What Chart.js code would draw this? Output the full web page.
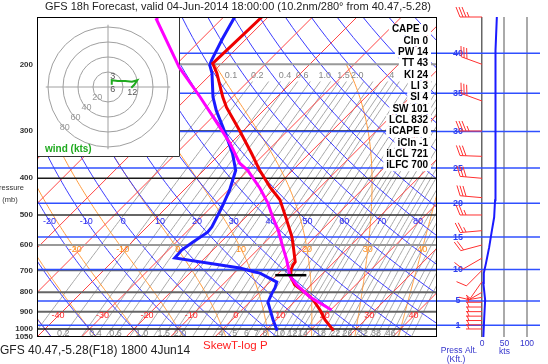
<!DOCTYPE html>
<html>
<head>
    <title>GFS Skew-T</title>
    <script src="https://cdn.jsdelivr.net/npm/chart.js"></script>
    <style>
        body { margin: 0; background: #fff; }
        #box { position: relative; width: 548px; height: 364px; overflow: hidden; }
        #box canvas { position: absolute; }
    </style>
</head>
<body>
<div id="box">
    <canvas id="hodoChart" width="143" height="140" style="left:37px; top:17px; z-index:1"></canvas>
    <canvas id="skewChart" width="548" height="364" style="left:0; top:0; z-index:2"></canvas>
    <canvas id="windChart" width="111" height="364" style="left:437px; top:0; z-index:3"></canvas>
</div>

<script>
    // ---- sounding (pressure mb / degC) ----
    const tempP = [1010, 947, 891, 838, 813, 789, 765, 729, 699, 678, 665, 607, 572, 516, 456, 422, 381, 344, 299, 260, 244, 211, 199, 166, 150];
    const tempC = [25.3, 21.0, 17.6, 13.8, 11.5, 9.0, 6.3, 3.6, 2.1, 1.4, 1.2, -2.6, -5.1, -10.1, -16.2, -21.3, -27.4, -33.0, -40.9, -49.0, -52.2, -58.9, -62.0, -61.6, -61.4];
    const dewP = [1010, 947, 849, 804, 779, 752, 712, 707, 690, 649, 619, 590, 555, 538, 477, 430, 381, 344, 317, 293, 265, 244, 211, 201, 195, 171, 153, 150];
    const dewC = [12.6, 9.3, 4.1, 3.0, 2.5, 1.6, -4.2, -5.6, -9.9, -26.8, -27.0, -26.3, -25.2, -25.4, -27.6, -29.7, -32.8, -37.3, -41.4, -45.4, -50.6, -54.4, -60.0, -62.3, -63.0, -65.4, -67.2, -67.5];
    const parcelP = [891, 823, 766, 725, 658, 608, 548, 507, 465, 425, 381, 365, 323, 293, 244, 204, 153, 150];
    const parcelC = [20.2, 12.4, 6.8, 3.2, -1.1, -4.9, -9.8, -13.9, -18.2, -23.3, -30.1, -33.5, -40.2, -46.1, -57.3, -68.6, -84.3, -85.0];

    // ---- stability indices ----
    const indexNames = ['CAPE', 'CIn', 'PW', 'TT', 'KI', 'LI', 'SI', 'SW', 'LCL', 'iCAPE', 'iCIn', 'iLCL', 'iLFC'];
    const indexValues = ['0', '0', '14', '43', '24', '3', '4', '101', '832', '0', '-1', '721', '700'];
    const iLclP = 721;

    // ---- wind ----
    const speedP = [1050, 930, 839, 756, 712, 669, 608, 558, 507, 457, 374, 298, 234, 184, 150];
    const speedKt = [3, 5, 7, 3, 4, 9, 16, 21, 27, 29, 31, 31, 29, 29, 33];
    const barbP = [150, 200, 250, 300, 350, 400, 450, 500, 550, 600, 650, 700, 750, 800, 825, 850, 875, 900, 925, 950, 975, 1000];
    const barbDir = [270, 290, 290, 270, 272, 275, 275, 270, 265, 255, 240, 225, 215, 240, 260, 270, 270, 270, 270, 270, 270, 270];
    const barbKt = [35, 30, 30, 35, 30, 30, 30, 25, 25, 20, 10, 10, 10, 5, 5, 5, 5, 5, 5, 5, 5, 5];
    const hodoU = [5, 5, 13, 23, 32, 39, 35, 31];
    const hodoV = [3, 9, 8, 8, 7, 9, 3, -1];
    const hodoTags = ['6', '3', '', '', '', '', '', '12'];
    const hodoRings = [20, 40, 60, 80];

    // ---- axes and isopleth labels ----
    const pTicks = [200, 300, 400, 500, 600, 700, 800, 900, 1000, 1050];
    const pLines = [200, 300, 400, 500, 600, 700, 800, 900, 1000];
    const altKft = [1, 5, 10, 15, 20, 25, 30, 35, 40];
    const isoLabels = [-40, -30, -20, -10, 0, 10, 20, 30, 40];
    const thetaLabels = [-20, -10, 0, 10, 20, 30, 40, 50, 60, 70, 80];
    const thetaWLabels = [-20, -10, 0, 10, 20, 30, 40];
    const mixLines = [0.1, 0.2, 0.3, 0.4, 0.5, 0.6, 0.8, 1, 1.25, 1.5, 1.75, 2, 2.5, 3, 3.5, 4, 4.5, 5, 6, 7, 8, 9, 10, 11, 12, 13, 14, 16, 18, 20, 22, 24, 26, 29, 32, 35, 38, 42, 46, 50, 55, 60];
    const mixBottom = ['0.2', '0.4', '0.6', '1.0', '1.5', '2.0', '4', '5', '6', '7', '8', '10', '12', '14', '18', '22', '26', '32', '38', '46'];
    const mixTop = ['0.1', '0.2', '0.4', '0.6', '1.0', '1.5', '2.0', '4', '6'];

    const title = 'GFS 18h Forecast, valid 04-Jun-2014 18:00:00 (10.2nm/280\u00b0 from 40.47,-5.28)';
    const footer = 'GFS 40.47,-5.28(F18) 1800 4Jun14';

    const FONT = '"Liberation Sans", Arial, sans-serif';
    Chart.defaults.font.family = FONT;
    const HODO = { left: 37, top: 17, w: 143, h: 140 };

    // skew: isotherms at 45 degrees
    const K = 37;
    const X = (t, p) => t + K * Math.log(1050 / p);
    const toXY = (ps, ts) => ps.map((p, i) => ({ x: X(ts[i], p), y: p }));

    function es(t) { return 6.112 * Math.exp(17.67 * t / (t + 243.5)); }
    function dryT(th, p) { return (th + 273.15) * Math.pow(p / 1000, 0.2857) - 273.15; }
    function dewFromMix(w, p) {
        const l = Math.log(p * w / (622 + w) / 6.112);
        return 243.5 * l / (17.67 - l);
    }
    function moistLapse(t, p) {
        const T = t + 273.15, e = es(t), rs = 0.622 * e / (p - e), L = 2.501e6;
        return (287.04 * T + L * rs) / (p * (1005.7 + L * L * rs * 0.622 / (287.04 * T * T)));
    }
    function moistCurve(tw) {
        const down = [[tw, 1000]], up = [];
        let t = tw;
        for (let p = 1000; p < 1050; p += 5) { t += moistLapse(t, p) * 5; down.push([t, p + 5]); }
        t = tw;
        for (let p = 1000; p > 200; p -= 5) {
            const k1 = moistLapse(t, p), k2 = moistLapse(t - k1 * 5, p - 5);
            t -= 0.5 * (k1 + k2) * 5;
            up.push([t, p - 5]);
        }
        return down.reverse().concat(up);
    }
    function pSteps(from, to) {
        const out = [];
        for (let p = from; p > to; p -= 10) out.push(p);
        out.push(to);
        return out;
    }
    const altToP = h => 1013.25 * Math.pow(1 - 6.8756e-6 * h * 1000, 5.2559);

    const moistSet = [];
    for (let tw = -40; tw <= 50; tw += 10) moistSet.push({ tw: tw, pts: moistCurve(tw) });

    const pLineStyle = p => (p === 300 || p === 400 || p === 1000) ? ['#1a1a1a', 1.5]
        : (p === 500) ? ['#333', 1.5] : (p === 200 || p === 600) ? ['#999', 2] : ['#666', 2];

    const skewBg = {
        id: 'skewBg',
        beforeDatasetsDraw(chart) {
            const { ctx, chartArea: a, scales: { x, y } } = chart;
            const path = pts => {
                ctx.beginPath();
                pts.forEach(([xv, pv], i) => {
                    const px = x.getPixelForValue(xv), py = y.getPixelForValue(pv);
                    if (i) ctx.lineTo(px, py); else ctx.moveTo(px, py);
                });
                ctx.stroke();
            };
            ctx.save();
            ctx.beginPath();
            ctx.rect(a.left, a.top, a.width, a.height);
            ctx.rect(HODO.left, HODO.top, HODO.w, HODO.h);
            ctx.clip('evenodd');
            ctx.lineWidth = 1;

            ctx.strokeStyle = '#a8a8a8';
            mixLines.forEach(w => path(pSteps(1050, 222).map(p => [X(dewFromMix(w, p), p), p])));
            ctx.strokeStyle = '#ff9a3c';
            moistSet.forEach(m => path(m.pts.map(([t, p]) => [X(t, p), p])));
            ctx.strokeStyle = '#3c3cff';
            for (let th = -50; th <= 170; th += 10) path(pSteps(1050, 150).map(p => [X(dryT(th, p), p), p]));
            ctx.strokeStyle = '#ff4646';
            for (let t = -120; t <= 50; t += 10) path([[X(t, 1050), 1050], [X(t, 150), 150]]);

            pLines.forEach(p => {
                const [c, lw] = pLineStyle(p);
                const py = y.getPixelForValue(p);
                ctx.strokeStyle = c; ctx.lineWidth = lw;
                ctx.beginPath(); ctx.moveTo(a.left, py); ctx.lineTo(a.right, py); ctx.stroke();
            });
            ctx.strokeStyle = '#3050ff'; ctx.lineWidth = 1.5;
            altKft.forEach(h => {
                const py = y.getPixelForValue(altToP(h));
                ctx.beginPath(); ctx.moveTo(a.left, py); ctx.lineTo(a.right, py); ctx.stroke();
            });

            ctx.font = '9px ' + FONT;
            ctx.textAlign = 'center';
            ctx.textBaseline = 'middle';
            const label = (s, xv, pv, dx) => ctx.fillText(s, x.getPixelForValue(xv) + (dx || 0), y.getPixelForValue(pv));
            ctx.fillStyle = '#ff2a2a';
            isoLabels.forEach(t => label(String(t), X(t, 924), 924));
            ctx.fillStyle = '#2a2aee';
            thetaLabels.forEach(th => label(String(th), X(dryT(th, 519), 519), 519));
            ctx.fillStyle = '#ff8c1a';
            thetaWLabels.forEach(tw => {
                const m = moistSet.find(s => s.tw === tw);
                const pt = m.pts.find(q => Math.abs(q[1] - 615) < 0.1);
                label(String(tw), X(pt[0], 615), 615);
            });
            ctx.fillStyle = '#888';
            mixBottom.forEach(s => { const w = parseFloat(s); label(s, X(dewFromMix(w, 1025), 1025), 1025, -2); });
            mixTop.forEach(s => { const w = parseFloat(s); label(s, X(dewFromMix(w, 214), 214), 214); });
            ctx.restore();
        },
        afterDraw(chart) {
            const { ctx, chartArea: a } = chart;
            ctx.save();
            ctx.strokeStyle = '#000'; ctx.lineWidth = 1;
            ctx.strokeRect(a.left + 0.5, a.top + 0.5, a.width - 1, a.height - 1);

            ctx.font = 'bold 10px ' + FONT;
            ctx.textAlign = 'right';
            ctx.textBaseline = 'middle';
            indexNames.forEach((n, i) => {
                const s = n + ' ' + indexValues[i];
                const w = ctx.measureText(s).width;
                const yc = a.top + 12.5 + i * 11.35;
                ctx.fillStyle = '#fff';
                ctx.fillRect(a.right - 9 - w - 3, yc - 5.5, w + 6, 11);
                ctx.fillStyle = '#000';
                ctx.fillText(s, a.right - 9, yc);
            });

            ctx.textAlign = 'left';
            ctx.fillStyle = '#222';
            ctx.font = '11px ' + FONT;
            ctx.fillText(title, 45, 7);
            ctx.font = '12px ' + FONT;
            ctx.fillText(footer, 0, 351);
            ctx.fillStyle = '#ff2020';
            ctx.font = '11.5px ' + FONT;
            ctx.fillText('SkewT-log P', 203, 346);

            ctx.fillStyle = '#333';
            ctx.font = '7.5px ' + FONT;
            ctx.textAlign = 'right';
            ctx.fillText('Pressure', 24, 188);
            ctx.textAlign = 'center';
            ctx.fillText('(mb)', 10, 200);
            ctx.restore();
        }
    };

    const lcl = X(parcelC[3], iLclP);
    new Chart(document.getElementById('skewChart'), {
        type: 'scatter',
        data: {
            datasets: [
                { data: [{ x: lcl - 3.5, y: iLclP }, { x: lcl + 3.5, y: iLclP }], borderColor: '#000', borderWidth: 2.5 },
                { data: toXY(parcelP, parcelC), borderColor: '#ff00ff', borderWidth: 3 },
                { data: toXY(tempP, tempC), borderColor: '#ee0000', borderWidth: 3 },
                { data: toXY(dewP, dewC), borderColor: '#1a1aff', borderWidth: 3 }
            ].map(d => Object.assign(d, { showLine: true, pointRadius: 0, tension: 0 }))
        },
        options: {
            responsive: false,
            animation: false,
            devicePixelRatio: 1,
            layout: { padding: { top: 17, right: 111, bottom: 27, left: 0 } },
            plugins: { legend: { display: false }, tooltip: { enabled: false } },
            scales: {
                x: { type: 'linear', min: -40, max: 50, display: false },
                y: {
                    type: 'logarithmic', min: 150, max: 1050, reverse: true, position: 'left',
                    afterBuildTicks: s => { s.ticks = pTicks.map(v => ({ value: v })); },
                    afterFit: s => { s.width = 37; },
                    grid: { display: false, drawTicks: false },
                    border: { display: false },
                    ticks: { autoSkip: false, padding: 4, color: '#333', font: { size: 8, weight: 'bold' }, callback: v => String(v) }
                }
            }
        },
        plugins: [skewBg]
    });

    // ---- wind speed panel ----
    const windPanel = {
        id: 'windPanel',
        beforeDatasetsDraw(chart) {
            const { ctx, chartArea: a, scales: { y } } = chart;
            ctx.save();
            ctx.strokeStyle = '#3050ff'; ctx.lineWidth = 1.5;
            ctx.font = 'bold 9px ' + FONT;
            ctx.textAlign = 'center'; ctx.textBaseline = 'middle';
            altKft.forEach(h => {
                const py = y.getPixelForValue(altToP(h));
                ctx.beginPath(); ctx.moveTo(a.left, py); ctx.lineTo(a.right, py); ctx.stroke();
                ctx.fillStyle = '#3040ee';
                ctx.fillText(String(h), a.left + 21, py);
            });
            ctx.restore();
        },
        afterDatasetsDraw(chart) {
            const { ctx, scales: { x, y } } = chart;
            ctx.save();
            ctx.strokeStyle = '#ff3030'; ctx.lineWidth = 1;
            ctx.beginPath();
            barbP.forEach((p, i) => {
                const x0 = x.getPixelForValue(0), y0 = y.getPixelForValue(p);
                const d = barbDir[i] * Math.PI / 180;
                const ux = Math.sin(d), uy = -Math.cos(d), nx = -uy, ny = ux;
                const len = p > 790 ? 16 : 22;
                const tx = x0 + ux * len, ty = y0 + uy * len;
                ctx.moveTo(x0, y0); ctx.lineTo(tx, ty);
                const s5 = Math.round(barbKt[i] / 5) * 5;
                const full = Math.floor(s5 / 10), half = s5 % 10 ? 1 : 0;
                let k = 0;
                for (; k < full; k++) {
                    const bx = tx - ux * k * 3, by = ty - uy * k * 3;
                    ctx.moveTo(bx, by); ctx.lineTo(bx + nx * 10 + ux * 4, by + ny * 10 + uy * 4);
                }
                if (half) {
                    if (k === 0) k = 1;
                    const bx = tx - ux * k * 3, by = ty - uy * k * 3;
                    ctx.moveTo(bx, by); ctx.lineTo(bx + nx * 5 + ux * 2, by + ny * 5 + uy * 2);
                }
            });
            ctx.stroke();
            ctx.restore();
        },
        afterDraw(chart) {
            const { ctx, scales: { x } } = chart;
            ctx.save();
            ctx.fillStyle = '#3333cc';
            ctx.font = '8.5px ' + FONT;
            ctx.textAlign = 'center'; ctx.textBaseline = 'middle';
            ctx.fillText('kts', x.getPixelForValue(50), 352);
            ctx.fillText('Press Alt.', 22, 351);
            ctx.fillText('(Kft.)', 19, 360);
            ctx.restore();
        }
    };

    new Chart(document.getElementById('windChart'), {
        type: 'scatter',
        data: {
            datasets: [{
                data: speedP.map((p, i) => ({ x: speedKt[i], y: p })),
                showLine: true, pointRadius: 0, borderColor: '#1a1aff', borderWidth: 2
            }]
        },
        options: {
            responsive: false,
            animation: false,
            devicePixelRatio: 1,
            layout: { padding: { top: 17, right: 8, bottom: 0, left: 0 } },
            plugins: { legend: { display: false }, tooltip: { enabled: false } },
            scales: {
                x: {
                    type: 'linear', min: -100, max: 128.9, position: 'bottom',
                    afterBuildTicks: s => { s.ticks = [0, 50, 100].map(v => ({ value: v })); },
                    afterFit: s => { s.height = 27; },
                    grid: {
                        drawTicks: false,
                        color: c => (c.tick && c.tick.value === 0) ? '#666' : '#aaa',
                        lineWidth: c => (c.tick && c.tick.value === 0) ? 1.5 : 2
                    },
                    border: { display: false },
                    ticks: { autoSkip: false, maxRotation: 0, padding: 2, color: '#3333cc', font: { size: 8.5 } }
                },
                y: { type: 'logarithmic', min: 150, max: 1050, reverse: true, display: false }
            }
        },
        plugins: [windPanel]
    });

    // ---- hodograph inset ----
    const hodoGrid = {
        id: 'hodoGrid',
        beforeDraw(chart) {
            const { ctx, width, height } = chart;
            ctx.save(); ctx.fillStyle = '#fff'; ctx.fillRect(0, 0, width, height); ctx.restore();
        },
        beforeDatasetsDraw(chart) {
            const { ctx, scales: { x, y } } = chart;
            const cx = x.getPixelForValue(0), cy = y.getPixelForValue(0);
            ctx.save();
            ctx.strokeStyle = '#a0a0a0'; ctx.lineWidth = 1;
            hodoRings.forEach(r => {
                ctx.beginPath(); ctx.arc(cx, cy, x.getPixelForValue(r) - cx, 0, 2 * Math.PI); ctx.stroke();
            });
            ctx.beginPath();
            ctx.moveTo(x.getPixelForValue(-83), cy); ctx.lineTo(x.getPixelForValue(83), cy);
            ctx.moveTo(cx, y.getPixelForValue(83)); ctx.lineTo(cx, y.getPixelForValue(-83));
            ctx.stroke();
            ctx.fillStyle = '#999';
            ctx.font = '9px ' + FONT;
            ctx.textAlign = 'center'; ctx.textBaseline = 'middle';
            hodoRings.forEach(r => ctx.fillText(String(r), x.getPixelForValue(-0.72 * r), y.getPixelForValue(-0.68 * r)));
            ctx.restore();
        },
        afterDraw(chart) {
            const { ctx, width, height, scales: { x, y } } = chart;
            ctx.save();
            ctx.fillStyle = '#555';
            ctx.font = '9px ' + FONT;
            ctx.textAlign = 'center'; ctx.textBaseline = 'middle';
            hodoTags.forEach((t, i) => {
                if (!t) return;
                const dy = i === 1 ? -4 : 5;
                ctx.fillText(t, x.getPixelForValue(hodoU[i]) + 1, y.getPixelForValue(hodoV[i]) + dy);
            });
            ctx.fillStyle = '#1faa1f';
            ctx.font = 'bold 10px ' + FONT;
            ctx.textAlign = 'left';
            ctx.fillText('wind (kts)', 8, 132);
            ctx.strokeStyle = '#333'; ctx.lineWidth = 1;
            ctx.beginPath();
            ctx.moveTo(width - 0.5, 0); ctx.lineTo(width - 0.5, height - 0.5); ctx.lineTo(0, height - 0.5);
            ctx.stroke();
            ctx.restore();
        }
    };

    new Chart(document.getElementById('hodoChart'), {
        type: 'scatter',
        data: {
            datasets: [{
                data: hodoU.map((u, i) => ({ x: u, y: hodoV[i] })),
                showLine: true, pointRadius: 0, borderColor: '#1faa1f', borderWidth: 2
            }]
        },
        options: {
            responsive: false,
            animation: false,
            devicePixelRatio: 1,
            layout: { padding: 0 },
            plugins: { legend: { display: false }, tooltip: { enabled: false } },
            scales: {
                x: { type: 'linear', min: -94.67, max: 96, display: false },
                y: { type: 'linear', min: -93.33, max: 93.33, display: false }
            }
        },
        plugins: [hodoGrid]
    });
</script>
</body>
</html>
